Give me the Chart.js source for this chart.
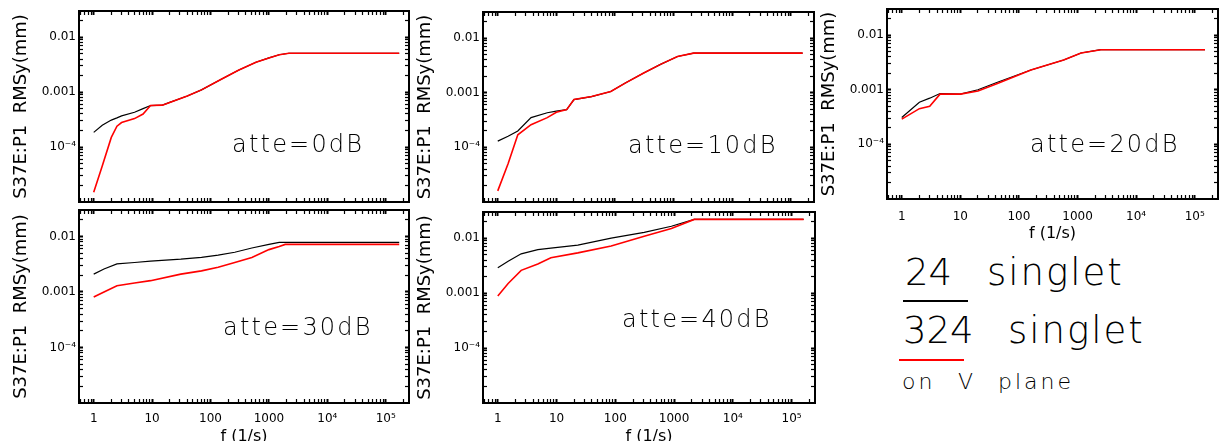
<!DOCTYPE html>
<html><head><meta charset="utf-8">
<script src="https://cdn.jsdelivr.net/npm/chart.js@4.4.1/dist/chart.umd.min.js"></script>
<style>
html,body{margin:0;padding:0;background:#fff;width:1220px;height:441px;overflow:hidden;position:relative;}
canvas{position:absolute;}
.t{position:absolute;white-space:pre;font-family:"DejaVu Sans",sans-serif;font-weight:200;line-height:1;color:#000;}
.ln{position:absolute;}
</style></head><body>
<canvas id="c1" width="416" height="208" style="left:0px;top:0px"></canvas>
<canvas id="c2" width="417" height="207" style="left:404px;top:1px"></canvas>
<canvas id="c3" width="412" height="243" style="left:808px;top:0px"></canvas>
<canvas id="c4" width="416" height="247" style="left:0px;top:199px"></canvas>
<canvas id="c5" width="418" height="245" style="left:404px;top:201px"></canvas>

<div class="t" style="left:232px;top:132px;font-size:24px;letter-spacing:2.2px">atte=0dB</div>
<div class="t" style="left:628px;top:133px;font-size:24px;letter-spacing:2.2px">atte=10dB</div>
<div class="t" style="left:1030px;top:132px;font-size:24px;letter-spacing:2.2px">atte=20dB</div>
<div class="t" style="left:223px;top:315px;font-size:24px;letter-spacing:2.2px">atte=30dB</div>
<div class="t" style="left:622px;top:307px;font-size:24px;letter-spacing:2.2px">atte=40dB</div>

<div class="t" style="left:905px;top:254px;font-size:37px">24</div>
<div class="t" style="left:987px;top:254px;font-size:37px;letter-spacing:2px">singlet</div>
<div class="ln" style="left:903px;top:300px;width:65px;height:2px;background:#000"></div>
<div class="t" style="left:903px;top:312px;font-size:37px">324</div>
<div class="t" style="left:1008px;top:312px;font-size:37px;letter-spacing:2px">singlet</div>
<div class="ln" style="left:899px;top:359px;width:65px;height:2px;background:#ff0000"></div>
<div class="t" style="left:902px;top:371px;font-size:22px;letter-spacing:3px">on</div>
<div class="t" style="left:958px;top:371px;font-size:22px;letter-spacing:3px">V</div>
<div class="t" style="left:998px;top:371px;font-size:22px;letter-spacing:3px">plane</div>

<script>
// ---- data ----
const P1_F     = [1, 1.4, 2, 2.5, 3, 5, 7, 9.4, 15, 20, 40, 70, 150, 300, 600, 1000, 1500, 2200, 170000];
const P1_BLACK = [1.85e-4, 2.5e-4, 3.1e-4, 3.4e-4, 3.7e-4, 4.3e-4, 5.0e-4, 5.7e-4, 5.8e-4, 6.5e-4, 8.5e-4, 1.1e-3, 1.7e-3, 2.5e-3, 3.5e-3, 4.2e-3, 4.8e-3, 5.1e-3, 5.1e-3];
const P1_RED   = [1.5e-5, 4.5e-5, 1.5e-4, 2.4e-4, 2.8e-4, 3.3e-4, 4.0e-4, 5.7e-4, 5.8e-4, 6.5e-4, 8.5e-4, 1.1e-3, 1.7e-3, 2.5e-3, 3.5e-3, 4.2e-3, 4.8e-3, 5.1e-3, 5.1e-3];

const P2_F     = [1, 1.5, 2.2, 3.7, 7, 10, 15, 20, 40, 85, 150, 310, 600, 1170, 2200, 160000];
const P2_BLACK = [1.3e-4, 1.6e-4, 2.0e-4, 3.5e-4, 4.3e-4, 4.6e-4, 4.9e-4, 7.5e-4, 8.5e-4, 1.05e-3, 1.5e-3, 2.3e-3, 3.3e-3, 4.6e-3, 5.3e-3, 5.3e-3];
const P2_RED   = [1.6e-5, 5.0e-5, 1.7e-4, 2.6e-4, 3.5e-4, 4.4e-4, 4.9e-4, 7.5e-4, 8.5e-4, 1.05e-3, 1.5e-3, 2.3e-3, 3.3e-3, 4.6e-3, 5.3e-3, 5.3e-3];

const P3_F     = [1, 2, 3, 4.5, 10, 20, 43, 160, 580, 1150, 2500, 150000];
const P3_BLACK = [3.1e-4, 5.9e-4, 7.0e-4, 8.5e-4, 8.3e-4, 1.0e-3, 1.37e-3, 2.3e-3, 3.5e-3, 4.7e-3, 5.4e-3, 5.4e-3];
const P3_RED   = [2.9e-4, 4.5e-4, 5.0e-4, 8.3e-4, 8.3e-4, 9.5e-4, 1.3e-3, 2.3e-3, 3.5e-3, 4.7e-3, 5.4e-3, 5.4e-3];

const P4_F     = [1, 1.5, 2.5, 5, 9.4, 31, 70, 135, 260, 510, 1000, 1500, 1900, 170000];
const P4_BLACK = [2.1e-3, 2.6e-3, 3.2e-3, 3.4e-3, 3.6e-3, 3.9e-3, 4.2e-3, 4.6e-3, 5.2e-3, 6.2e-3, 7.2e-3, 7.8e-3, 7.8e-3, 7.8e-3];
const P4_RED   = [8.1e-4, 1.0e-3, 1.3e-3, 1.45e-3, 1.6e-3, 2.1e-3, 2.4e-3, 2.8e-3, 3.4e-3, 4.2e-3, 5.8e-3, 6.6e-3, 7.2e-3, 7.2e-3];

const P5_F     = [1, 1.5, 2.5, 4.8, 8, 23, 85, 310, 900, 2200, 160000];
const P5_BLACK = [2.9e-3, 3.8e-3, 5.2e-3, 6.2e-3, 6.6e-3, 7.5e-3, 1.0e-2, 1.28e-2, 1.65e-2, 2.2e-2, 2.2e-2];
const P5_RED   = [8.9e-4, 1.5e-3, 2.6e-3, 3.4e-3, 4.4e-3, 5.4e-3, 7.2e-3, 1.09e-2, 1.5e-2, 2.2e-2, 2.2e-2];

const X_TICK_VALUES = [1, 10, 100, 1000, 10000, 100000];
const X_TICK_LABELS = ['1', '10', '100', '1000', '10\u2074', '10\u2075'];
const Y_TICK_VALUES = [0.01, 0.001, 0.0001];
const Y_TICK_LABELS = ['0.01', '0.001', '10\u207B\u2074'];
const PANEL_LABELS = ['atte=0dB', 'atte=10dB', 'atte=20dB', 'atte=30dB', 'atte=40dB'];
const Y_TITLE = 'S37E:P1  RMSy(mm)';
const X_TITLE = 'f (1/s)';

const X_MIN = 0.56, X_MAX = 2.5e5, Y_MIN = 1e-5, Y_MAX = 0.03;

// ---- helpers ----
Chart.defaults.font.family = '"DejaVu Sans", sans-serif';
function logTicks(min, max) {
  const out = [];
  for (let k = Math.floor(Math.log10(min)); k <= Math.ceil(Math.log10(max)); k++) {
    for (let m = 1; m <= 9; m++) {
      const v = parseFloat((m * Math.pow(10, k)).toPrecision(6));
      if (v > min && v < max) out.push({value: v});
    }
  }
  return out;
}
function isDecade(v) { const l = Math.log10(v); return Math.abs(l - Math.round(l)) < 1e-6; }
function labelFor(v, vals, labels) {
  for (let i = 0; i < vals.length; i++) if (Math.abs(v / vals[i] - 1) < 1e-6) return labels[i];
  return '';
}
function zip(xs, ys) { return xs.map((x, i) => ({x: x, y: ys[i]})); }

function axis(pos, size, showLabels, opt) {
  const horiz = pos === 'top' || pos === 'bottom';
  const lo = horiz ? X_MIN : Y_MIN, hi = horiz ? X_MAX : Y_MAX;
  return {
    type: 'logarithmic', position: pos, min: lo, max: hi,
    afterBuildTicks: s => { s.ticks = logTicks(lo, hi); },
    afterFit: s => {
      if (horiz) s.height = size; else s.width = size;
      s.paddingTop = 0; s.paddingBottom = 0; s.paddingLeft = 0; s.paddingRight = 0;
    },
    grid: {
      display: true, drawOnChartArea: false, drawTicks: true,
      tickLength: -4, tickColor: '#000',
      tickWidth: c => (c.tick && isDecade(c.tick.value)) ? 2 : 1.2
    },
    border: {display: true, color: '#000', width: 2},
    ticks: {
      display: showLabels, autoSkip: false, maxRotation: 0, minRotation: 0,
      padding: opt.tickPad || 7, color: '#000',
      font: {size: 12},
      callback: v => horiz ? labelFor(v, X_TICK_VALUES, X_TICK_LABELS) : labelFor(v, Y_TICK_VALUES, Y_TICK_LABELS)
    },
    title: {
      display: !!opt.title, text: opt.title || '', color: '#000',
      font: {size: horiz ? 16 : 18},
      padding: horiz ? {top: 0, bottom: 0} : {top: 11, bottom: 0}
    }
  };
}

function makePanel(id, left, top, w, h, box, F, B, R, showX, xPad) {
  const yW = box[0] - left, y2W = left + w - box[2];
  const x2H = box[1] - top, xH = top + h - box[3];
  new Chart(document.getElementById(id), {
    type: 'line',
    data: {
      datasets: [
        {data: zip(F, B), borderColor: '#000', borderWidth: 1.2, pointRadius: 0, tension: 0, order: 2},
        {data: zip(F, R), borderColor: '#ff0000', borderWidth: 1.6, pointRadius: 0, tension: 0, order: 1}
      ]
    },
    options: {
      responsive: false, animation: false, devicePixelRatio: 1,
      layout: {padding: 0},
      plugins: {legend: {display: false}, tooltip: {enabled: false}},
      scales: {
        x: axis('bottom', xH, showX, {title: showX ? X_TITLE : null, tickPad: xPad}),
        x2: axis('top', x2H, false, {}),
        y: axis('left', yW, true, {title: Y_TITLE, tickPad: 7}),
        y2: axis('right', y2W, false, {})
      }
    }
  });
}

makePanel('c1', 0, 0, 416, 208, [79, 11, 409, 202], P1_F, P1_BLACK, P1_RED, false, 13);
makePanel('c2', 404, 1, 417, 207, [483, 12, 814, 202], P2_F, P2_BLACK, P2_RED, false, 13);
makePanel('c3', 808, 0, 412, 243, [887, 9, 1218, 199], P3_F, P3_BLACK, P3_RED, true, 15);
makePanel('c4', 0, 199, 416, 247, [79, 210, 409, 403], P4_F, P4_BLACK, P4_RED, true, 13);
makePanel('c5', 404, 201, 418, 245, [483, 212, 815, 403], P5_F, P5_BLACK, P5_RED, true, 13);
</script>
</body></html>
